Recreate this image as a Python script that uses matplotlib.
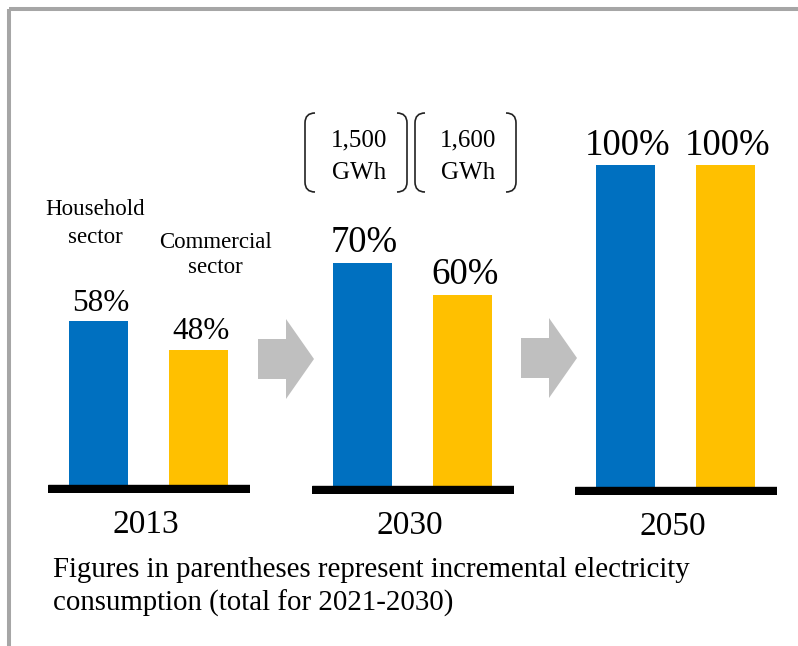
import matplotlib
matplotlib.use("Agg")
import matplotlib.pyplot as plt
from matplotlib.patches import Polygon, Rectangle, PathPatch
from matplotlib.path import Path

plt.rcParams['font.family'] = ['Liberation Serif', 'DejaVu Serif']

# data
years = ['2013', '2030', '2050']
household = [58, 70, 100]
commercial = [48, 60, 100]
series_names = ['Household\nsector', 'Commercial\nsector']
increments = ['1,500\nGWh', '1,600\nGWh']
footnote = 'Figures in parentheses represent incremental electricity\nconsumption (total for 2021-2030)'

BLUE = '#0070c0'
YELLOW = '#ffc000'
W, H = 798, 646

fig = plt.figure(figsize=(W / 100, H / 100), dpi=100)

# overlay axes in pixel coords (y down) for frame, arrows, brackets and notes
bg = fig.add_axes([0, 0, 1, 1])
bg.set_xlim(0, W)
bg.set_ylim(H, 0)
bg.axis('off')


def lines(x, y0, text, step, **kw):
    # put each line at its own baseline, step px apart
    for k, ln in enumerate(text.split('\n')):
        bg.text(x, y0 + k * step, ln, va='baseline', **kw)


# grey frame, only top and left edges show
bg.add_patch(Rectangle((9, 9), 1200, 1200, fill=False, ec='#a6a6a6', lw=2.9))

# block arrows between the groups
for x0, yc in [(258, 359), (521, 358)]:
    pts = [(x0, yc - 20), (x0 + 28, yc - 20), (x0 + 28, yc - 40), (x0 + 56, yc),
           (x0 + 28, yc + 40), (x0 + 28, yc + 20), (x0, yc + 20)]
    bg.add_patch(Polygon(pts, closed=True, fc='#bfbfbf', ec='none'))

# bar groups, one small axes each
lefts = [48, 312, 575]
bases = [485, 486, 487]
px_per_pct = [2.82, 3.19, 3.22]
val_size = [22.5, 26.5, 26.5]
band = 8
top_px = 90
for i, yr in enumerate(years):
    b = bases[i]
    s = px_per_pct[i]
    ax = fig.add_axes([lefts[i] / W, 1 - (b + band) / H, 202 / W, (b + band - top_px) / H])
    ax.set_xlim(-0.505, 1.515)
    ax.set_ylim(-band / s, (b - top_px) / s)
    ax.axis('off')
    vals = [household[i], commercial[i]]
    bars = ax.bar([0, 1], vals, width=0.59, color=[BLUE, YELLOW])
    ax.axhspan(-band / s, 0, color='black')
    for r, v in zip(bars, vals):
        ax.annotate(f'{v}%', (r.get_x() + r.get_width() / 2, v), xytext=(1.5, 7.5),
                    textcoords='offset points', ha='center', va='baseline',
                    fontsize=val_size[i])
    ax.annotate(yr, (0.485, 0), xycoords='axes fraction', xytext=(0, -29),
                textcoords='offset points', ha='center', va='baseline', fontsize=24)

# series names over the 2013 bars
lines(95, 215, series_names[0], 28, ha='center', fontsize=16.5)
lines(215, 248, series_names[1], 25, ha='center', fontsize=16.5)

# brackets with the 2021-2030 increments
for xl, xr, txt in [(305, 407, increments[0]), (415, 516, increments[1])]:
    top, bot, r = 113, 192, 10
    for x, d in [(xl, 1), (xr, -1)]:
        verts = [(x + d * r, top), (x, top), (x, top + r), (x, bot - r), (x, bot), (x + d * r, bot)]
        codes = [Path.MOVETO, Path.CURVE3, Path.CURVE3, Path.LINETO, Path.CURVE3, Path.CURVE3]
        bg.add_patch(PathPatch(Path(verts, codes), fill=False, ec='#222222', lw=1.2))
    lines((xl + xr) / 2 + 3, 146, txt, 33, ha='center', fontsize=18)

lines(53, 577, footnote, 34, ha='left', fontsize=20.8)

fig.savefig('out.png', dpi=100)
